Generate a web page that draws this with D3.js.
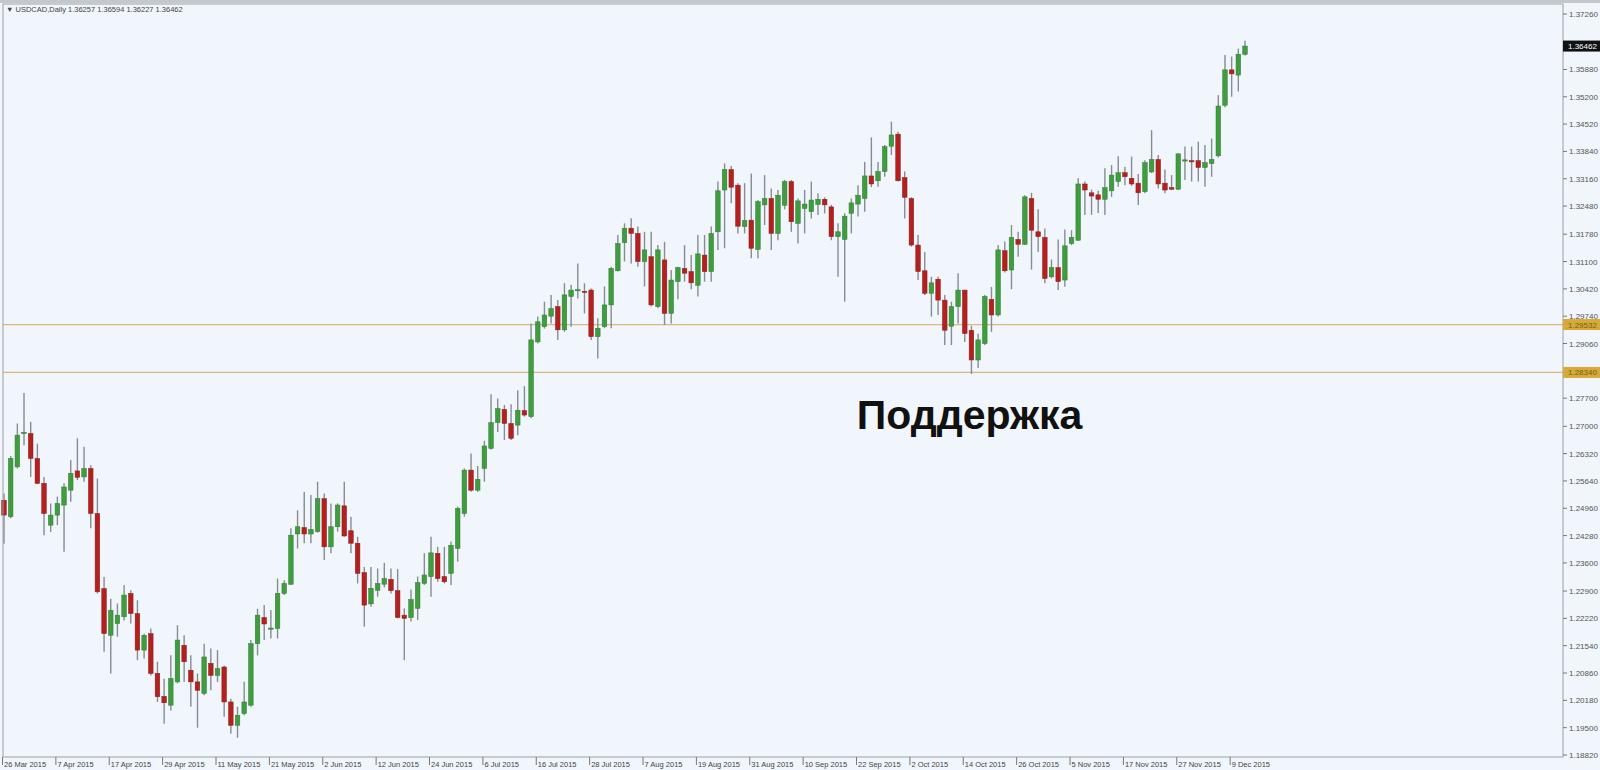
<!DOCTYPE html>
<html><head><meta charset="utf-8">
<script src="https://cdn.jsdelivr.net/npm/d3@7/dist/d3.min.js"></script>
<style>
html,body{margin:0;padding:0;background:#f0f6fc;overflow:hidden}
svg{display:block}
</style></head>
<body>
<svg id="c" width="1600" height="770"></svg>
<script>
const symbolTitle = "USDCAD,Daily";
const headerOHLC = ["1.36257", "1.36594", "1.36227", "1.36462"];
const opens = [1.2516,1.2475,1.2599,1.2682,1.2682,1.2620,1.2558,1.2454,1.2479,1.2504,1.2541,1.2589,1.2574,1.2595,1.2483,1.2296,1.2180,1.2209,1.2226,1.2284,1.2234,1.2143,1.2184,1.2085,1.2028,1.2006,1.2064,1.2155,1.2093,1.2064,1.2035,1.2110,1.2080,1.2101,1.2014,1.1956,1.1985,1.2006,1.2159,1.2224,1.2196,1.2197,1.2284,1.2307,1.2432,1.2448,1.2432,1.2438,1.2520,1.2400,1.2450,1.2502,1.2440,1.2409,1.2336,1.2258,1.2292,1.2307,1.2319,1.2291,1.2230,1.2224,1.2247,1.2309,1.2326,1.2384,1.2326,1.2334,1.2396,1.2483,1.2591,1.2541,1.2595,1.2645,1.2709,1.2742,1.2707,1.2703,1.2739,1.2724,1.2910,1.2948,1.2974,1.2998,1.2940,1.3023,1.3038,1.3036,1.3039,1.2923,1.2948,1.3002,1.3087,1.3157,1.3193,1.3180,1.3110,1.3122,1.2998,1.3114,1.2981,1.3060,1.3093,1.3085,1.3051,1.3126,1.3085,1.3184,1.3288,1.3339,1.3300,1.3197,1.3213,1.3140,1.3251,1.3267,1.3180,1.3250,1.3309,1.3205,1.3242,1.3234,1.3252,1.3265,1.3246,1.3172,1.3165,1.3230,1.3253,1.3267,1.3323,1.3311,1.3334,1.3397,1.3427,1.3319,1.3267,1.3151,1.3087,1.3031,1.3066,1.3014,1.2949,1.2998,1.3039,1.2939,1.2865,1.2906,1.3016,1.2977,1.3137,1.3089,1.3165,1.3153,1.3267,1.3184,1.3170,1.3072,1.3095,1.3064,1.3155,1.3163,1.3303,1.3281,1.3276,1.3265,1.3286,1.3309,1.3331,1.3317,1.3305,1.3284,1.3333,1.3364,1.3305,1.3294,1.3290,1.3362,1.3361,1.3361,1.3344,1.3354,1.3373,1.3499,1.3587,1.3574,1.36257];
const highs = [1.2533,1.2626,1.2707,1.2783,1.2711,1.2657,1.2574,1.2508,1.2525,1.2558,1.2616,1.2670,1.2649,1.2603,1.2570,1.2325,1.2271,1.2259,1.2305,1.2292,1.2267,1.2184,1.2197,1.2114,1.2072,1.2130,1.2205,1.2180,1.2130,1.2085,1.2159,1.2147,1.2143,1.2105,1.2022,1.2002,1.2064,1.2168,1.2246,1.2255,1.2243,1.2321,1.2317,1.2446,1.2491,1.2537,1.2529,1.2562,1.2533,1.2508,1.2508,1.2562,1.2475,1.2425,1.2350,1.2350,1.2346,1.2360,1.2346,1.2345,1.2247,1.2294,1.2326,1.2384,1.2425,1.2400,1.2400,1.2413,1.2500,1.2595,1.2632,1.2601,1.2664,1.2780,1.2769,1.2753,1.2755,1.2790,1.2800,1.2956,1.2973,1.3010,1.3027,1.3014,1.3056,1.3052,1.3105,1.3056,1.3043,1.2969,1.3048,1.3097,1.3176,1.3205,1.3218,1.3197,1.3184,1.3184,1.3151,1.3159,1.3089,1.3097,1.3151,1.3126,1.3176,1.3176,1.3197,1.3309,1.3354,1.3348,1.3305,1.3305,1.3329,1.3263,1.3325,1.3292,1.3288,1.3313,1.3313,1.3267,1.3288,1.3309,1.3280,1.3270,1.3251,1.3205,1.3230,1.3267,1.3300,1.3358,1.3419,1.3358,1.3400,1.3458,1.3433,1.3334,1.3270,1.3176,1.3134,1.3072,1.3072,1.3027,1.3010,1.3081,1.3039,1.2950,1.2930,1.3027,1.3047,1.3151,1.3160,1.3201,1.3184,1.3275,1.3281,1.3240,1.3192,1.3115,1.3165,1.3190,1.3188,1.3317,1.3309,1.3289,1.3286,1.3342,1.3350,1.3372,1.3346,1.3371,1.3328,1.3362,1.3437,1.3375,1.3339,1.3325,1.3379,1.3396,1.3396,1.3408,1.3400,1.3416,1.3524,1.3624,1.3620,1.3640,1.36594];
const lows = [1.2408,1.2471,1.2595,1.2653,1.2574,1.2556,1.2429,1.2437,1.2454,1.2388,1.2512,1.2566,1.2562,1.2446,1.2284,1.2139,1.2085,1.2176,1.2217,1.2209,1.2118,1.2122,1.2080,1.2014,1.1960,1.1993,1.2060,1.2064,1.2002,1.1950,1.2031,1.2043,1.2064,1.1977,1.1935,1.1925,1.1981,1.2002,1.2130,1.2168,1.2172,1.2172,1.2280,1.2305,1.2396,1.2409,1.2409,1.2435,1.2367,1.2384,1.2438,1.2425,1.2384,1.2309,1.2201,1.2251,1.2276,1.2299,1.2284,1.2222,1.2118,1.2214,1.2218,1.2305,1.2276,1.2313,1.2309,1.2305,1.2363,1.2475,1.2537,1.2537,1.2562,1.2642,1.2686,1.2666,1.2666,1.2678,1.2724,1.2720,1.2906,1.2943,1.2956,1.2915,1.2935,1.2948,1.3018,1.2981,1.2915,1.2869,1.2944,1.2944,1.3085,1.3110,1.3105,1.3097,1.3048,1.2998,1.2994,1.2952,1.2956,1.3016,1.3060,1.3041,1.3023,1.3060,1.3060,1.3139,1.3143,1.3255,1.3180,1.3180,1.3118,1.3118,1.3201,1.3139,1.3163,1.3240,1.3184,1.3155,1.3180,1.3217,1.3226,1.3230,1.3163,1.3072,1.3010,1.3180,1.3222,1.3234,1.3295,1.3296,1.3321,1.3375,1.3309,1.3217,1.3147,1.3064,1.3027,1.2973,1.2977,1.2902,1.2902,1.2956,1.2910,1.2830,1.2845,1.2902,1.2935,1.2973,1.3083,1.3041,1.3122,1.3151,1.3090,1.3134,1.3056,1.3068,1.3039,1.3047,1.3151,1.3162,1.3226,1.3226,1.3231,1.3226,1.3271,1.3296,1.3300,1.3298,1.3251,1.3280,1.3330,1.3292,1.3280,1.3288,1.3288,1.3313,1.3309,1.3309,1.3296,1.3321,1.3369,1.3494,1.3520,1.3533,1.36227];
const closes = [1.2479,1.2620,1.2678,1.2685,1.2620,1.2558,1.2483,1.2479,1.2508,1.2549,1.2583,1.2573,1.2595,1.2483,1.2288,1.2184,1.2242,1.2230,1.2280,1.2234,1.2143,1.2180,1.2085,1.2027,1.2012,1.2072,1.2168,1.2114,1.2064,1.2043,1.2126,1.2080,1.2097,1.2014,1.1956,1.1981,1.2014,1.2159,1.2230,1.2208,1.2198,1.2284,1.2309,1.2429,1.2450,1.2432,1.2443,1.2520,1.2400,1.2450,1.2504,1.2427,1.2409,1.2334,1.2255,1.2297,1.2309,1.2321,1.2291,1.2224,1.2222,1.2269,1.2311,1.2330,1.2385,1.2321,1.2313,1.2404,1.2496,1.2591,1.2541,1.2568,1.2651,1.2709,1.2744,1.2707,1.2670,1.2740,1.2728,1.2915,1.2960,1.2977,1.2993,1.2940,1.3027,1.3039,1.3040,1.3035,1.2923,1.2944,1.3002,1.3093,1.3155,1.3193,1.3180,1.3110,1.3139,1.3002,1.3139,1.2981,1.3064,1.3095,1.3081,1.3057,1.3129,1.3085,1.3180,1.3286,1.3339,1.3295,1.3198,1.3212,1.3143,1.3259,1.3267,1.3180,1.3275,1.3309,1.3209,1.3261,1.3253,1.3263,1.3265,1.3251,1.3172,1.3184,1.3223,1.3256,1.3275,1.3323,1.3303,1.3334,1.3396,1.3425,1.3311,1.3270,1.3151,1.3085,1.3031,1.3057,1.3014,1.2939,1.2998,1.3039,1.2931,1.2865,1.2915,1.3023,1.2977,1.3139,1.3087,1.3170,1.3153,1.3271,1.3188,1.3172,1.3068,1.3095,1.3060,1.3149,1.3170,1.3303,1.3288,1.3273,1.3265,1.3294,1.3325,1.3331,1.3321,1.3303,1.3281,1.3356,1.3364,1.3303,1.3288,1.3290,1.3378,1.3363,1.3360,1.3344,1.3356,1.3364,1.3497,1.3587,1.3577,1.3626,1.36462];
const dateLabels = ["26 Mar 2015","7 Apr 2015","17 Apr 2015","29 Apr 2015","11 May 2015","21 May 2015","2 Jun 2015","12 Jun 2015","24 Jun 2015","6 Jul 2015","16 Jul 2015","28 Jul 2015","7 Aug 2015","19 Aug 2015","31 Aug 2015","10 Sep 2015","22 Sep 2015","2 Oct 2015","14 Oct 2015","26 Oct 2015","5 Nov 2015","17 Nov 2015","27 Nov 2015","9 Dec 2015"];
const barsPerLabel = 8;
const priceTicks = [1.37260,1.35880,1.35200,1.34520,1.33840,1.33160,1.32480,1.31780,1.31100,1.30420,1.29740,1.29060,1.27700,1.27000,1.26320,1.25640,1.24960,1.24280,1.23600,1.22900,1.22220,1.21540,1.20860,1.20180,1.19500,1.18820];
const levels = [1.29532, 1.28340];
const lastPrice = 1.36462;
const annotations = [{text:"Поддержка", idx:127.8, price:1.2693}];

const W = 1600, H = 770;
const frame = {left:3, right:1563, top:4, bottom:757};
const svg = d3.select("#c");
const n = opens.length;
const x = d3.scaleLinear().domain([0, n - 1]).range([4, 1245]);
const y = d3.scaleLinear().domain([1.18820, 1.37260]).range([755, 14]);
const fmt = d3.format(".5f");

svg.append("rect").attr("width", W).attr("height", H).attr("fill", "#f0f6fc");
svg.append("rect").attr("width", W).attr("height", 3).attr("fill", "#c4c8cd");

// support lines
svg.append("g").selectAll("line").data(levels).join("line")
  .attr("x1", frame.left).attr("x2", frame.right)
  .attr("y1", d => y(d)).attr("y2", d => y(d))
  .attr("stroke", "#d9b878").attr("stroke-width", 1.2);

// candles
const data = opens.map((o, i) => ({i, o, h: highs[i], l: lows[i], c: closes[i]}));
const g = svg.append("g");
g.selectAll("line.w").data(data).join("line").attr("class", "w")
  .attr("x1", d => x(d.i)).attr("x2", d => x(d.i))
  .attr("y1", d => y(d.h)).attr("y2", d => y(d.l))
  .attr("stroke", "#868b94").attr("stroke-width", 1.4);
const bw = 4.6;
g.selectAll("rect.b").data(data).join("rect").attr("class", "b")
  .attr("x", d => x(d.i) - bw / 2).attr("width", bw)
  .attr("y", d => y(Math.max(d.o, d.c)))
  .attr("height", d => Math.max(1.2, Math.abs(y(d.o) - y(d.c))))
  .attr("fill", d => d.c >= d.o ? "#3f9c3f" : "#b3211f")
  .attr("stroke", d => d.c >= d.o ? "#2f7d2f" : "#8e1a18").attr("stroke-width", 0.5);

// frame
svg.append("rect").attr("x", frame.left).attr("y", frame.top)
  .attr("width", frame.right - frame.left).attr("height", frame.bottom - frame.top)
  .attr("fill", "none").attr("stroke", "#9aa0a6").attr("stroke-width", 1);

// right axis
const ax = svg.append("g");
ax.selectAll("line").data(priceTicks).join("line")
  .attr("x1", frame.right).attr("x2", frame.right + 4)
  .attr("y1", d => y(d)).attr("y2", d => y(d)).attr("stroke", "#777");
ax.selectAll("text").data(priceTicks).join("text")
  .attr("x", frame.right + 6).attr("y", d => y(d) + 3)
  .attr("font-family", "Liberation Sans, Arial, sans-serif").attr("font-size", 8)
  .attr("fill", "#555").text(d => fmt(d));

// level labels
const lv = svg.append("g").selectAll("g").data(levels).join("g");
lv.append("rect").attr("x", frame.right).attr("y", d => y(d) - 5.5)
  .attr("width", 37).attr("height", 11).attr("fill", "#d6a93a");
lv.append("text").attr("x", frame.right + 5).attr("y", d => y(d) + 3)
  .attr("font-family", "Liberation Sans, Arial, sans-serif").attr("font-size", 8)
  .attr("fill", "#7a5d14").text(d => fmt(d));

// last price label
svg.append("rect").attr("x", frame.right).attr("y", y(lastPrice) - 5.5)
  .attr("width", 37).attr("height", 11).attr("fill", "#111");
svg.append("text").attr("x", frame.right + 5).attr("y", y(lastPrice) + 3)
  .attr("font-family", "Liberation Sans, Arial, sans-serif").attr("font-size", 8)
  .attr("fill", "#fff").text(fmt(lastPrice));

// bottom axis
const bt = svg.append("g").selectAll("g").data(dateLabels).join("g")
  .attr("transform", (d, k) => `translate(${x(k * barsPerLabel) - 1.5},0)`);
bt.append("line").attr("y1", frame.bottom).attr("y2", frame.bottom + 8).attr("stroke", "#777");
bt.append("text").attr("x", 1.5).attr("y", 767)
  .attr("font-family", "Liberation Sans, Arial, sans-serif").attr("font-size", 7.5)
  .attr("fill", "#444").text(d => d);

// header
svg.append("text").attr("x", 6).attr("y", 12)
  .attr("font-family", "Liberation Sans, Arial, sans-serif").attr("font-size", 7.5)
  .attr("fill", "#444")
  .text("▼ " + symbolTitle + "  " + headerOHLC.join(" "));

// annotation
svg.append("g").selectAll("text").data(annotations).join("text")
  .attr("x", d => x(d.idx)).attr("y", d => y(d.price))
  .attr("font-family", "Liberation Sans, Arial, sans-serif").attr("font-weight", "bold")
  .attr("font-size", 41).attr("fill", "#111").text(d => d.text);
</script>
</body></html>
